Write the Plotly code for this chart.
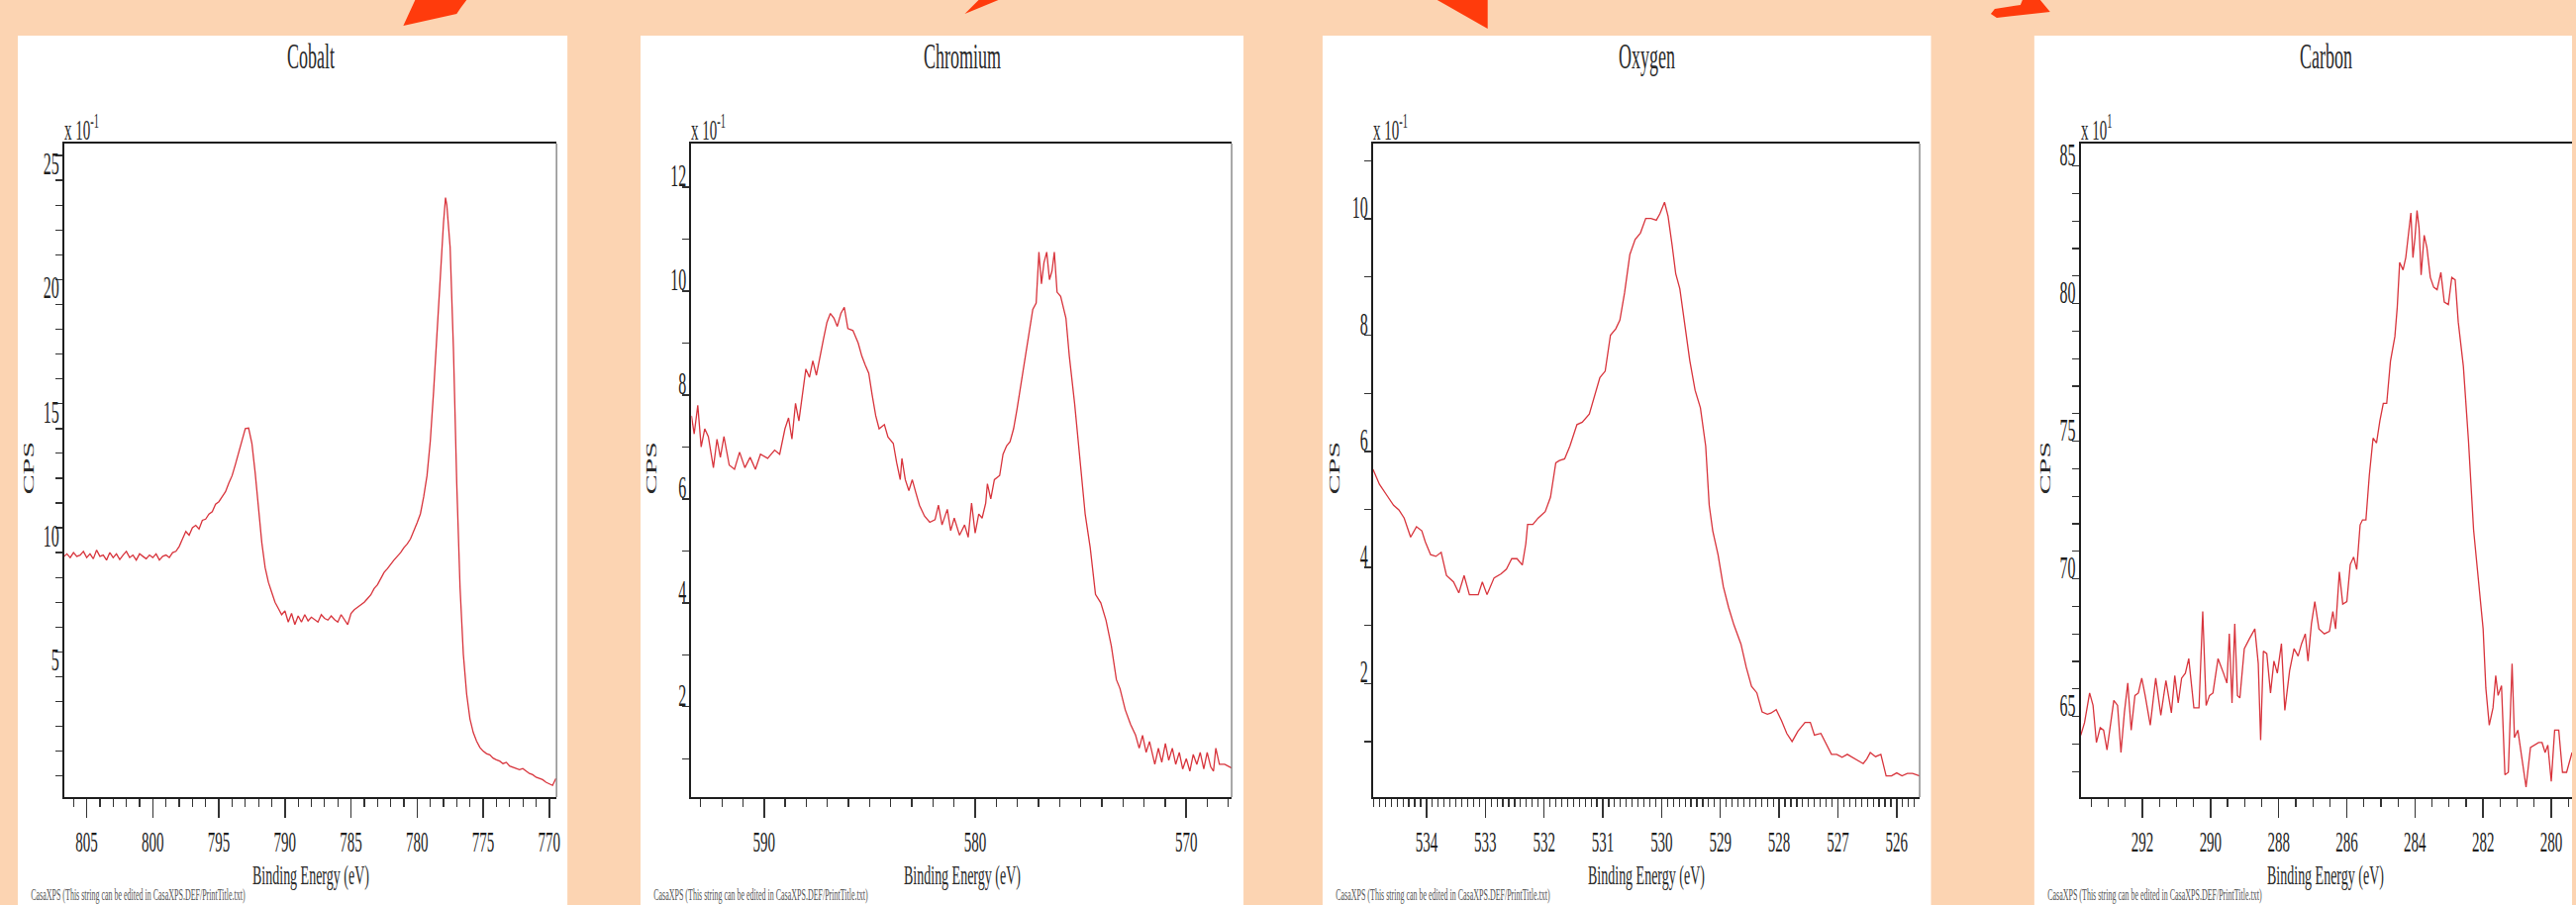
import plotly.graph_objects as go

# ---------------- data ----------------
panel_titles = ["Cobalt", "Chromium", "Oxygen", "Carbon"]
scale_labels = ["x 10<sup>-1</sup>", "x 10<sup>-1</sup>", "x 10<sup>-1</sup>", "x 10<sup>1</sup>"]
x_title = "Binding Energy (eV)"
y_title = "CPS"
footer = "CasaXPS (This string can be edited in CasaXPS.DEF/PrintTitle.txt)"

cobalt = [
    (806.7, 9.85), (806.5, 9.95), (806.25, 9.8), (806.0, 10.0), (805.75, 9.85), (805.5, 9.9),
    (805.25, 10.05), (805.0, 9.8), (804.75, 9.95), (804.5, 9.75), (804.25, 10.1), (804.0, 9.85),
    (803.75, 9.9), (803.5, 9.7), (803.25, 10.0), (803.0, 9.8), (802.75, 9.95), (802.5, 9.72),
    (802.25, 9.9), (802.0, 10.05), (801.75, 9.8), (801.5, 9.9), (801.25, 9.7), (801.0, 9.95),
    (800.75, 9.85), (800.5, 9.75), (800.25, 9.9), (800.0, 9.8), (799.75, 9.95), (799.5, 9.7),
    (799.25, 9.85), (799.0, 9.9), (798.75, 9.8), (798.5, 10.0), (798.25, 10.05), (798.0, 10.25),
    (797.75, 10.55), (797.5, 10.85), (797.25, 10.7), (797.0, 11.0), (796.75, 11.1), (796.5, 10.95),
    (796.25, 11.3), (796.0, 11.35), (795.75, 11.55), (795.5, 11.65), (795.25, 11.95), (795.0, 12.05),
    (794.75, 12.25), (794.5, 12.45), (794.25, 12.8), (794.0, 13.1), (793.75, 13.55), (793.5, 14.05),
    (793.25, 14.6), (793.0, 15.0), (792.75, 15.02), (792.5, 14.4), (792.25, 13.2), (792.0, 11.7),
    (791.75, 10.4), (791.5, 9.4), (791.25, 8.8), (791.0, 8.4), (790.75, 8.0), (790.5, 7.75),
    (790.25, 7.5), (790.0, 7.65), (789.75, 7.2), (789.5, 7.55), (789.25, 7.1), (789.0, 7.45),
    (788.75, 7.2), (788.5, 7.5), (788.25, 7.25), (788.0, 7.4), (787.75, 7.3), (787.5, 7.2),
    (787.25, 7.5), (787.0, 7.35), (786.75, 7.28), (786.5, 7.45), (786.25, 7.3), (786.0, 7.2),
    (785.75, 7.5), (785.5, 7.3), (785.25, 7.1), (785.0, 7.55), (784.75, 7.7), (784.5, 7.8),
    (784.25, 7.9), (784.0, 8.0), (783.75, 8.15), (783.5, 8.3), (783.25, 8.55), (783.0, 8.7),
    (782.75, 8.95), (782.5, 9.2), (782.25, 9.35), (782.0, 9.55), (781.75, 9.7), (781.5, 9.85),
    (781.25, 10.0), (781.0, 10.2), (780.75, 10.35), (780.5, 10.55), (780.25, 10.85), (780.0, 11.2),
    (779.75, 11.56), (779.5, 12.25), (779.25, 13.1), (779.0, 14.5), (778.75, 16.5), (778.5, 18.9),
    (778.25, 21.4), (778.0, 23.3), (777.85, 24.3), (777.75, 24.0), (777.5, 22.3), (777.25, 18.2),
    (777.0, 12.8), (776.75, 8.6), (776.5, 5.9), (776.25, 4.3), (776.0, 3.3), (775.75, 2.75),
    (775.5, 2.4), (775.25, 2.15), (775.0, 2.0), (774.75, 1.9), (774.5, 1.85), (774.25, 1.72),
    (774.0, 1.65), (773.75, 1.6), (773.5, 1.5), (773.25, 1.55), (773.0, 1.4), (772.75, 1.35),
    (772.5, 1.3), (772.25, 1.25), (772.0, 1.3), (771.75, 1.18), (771.5, 1.1), (771.25, 1.05),
    (771.0, 0.95), (770.75, 0.9), (770.5, 0.85), (770.25, 0.75), (770.0, 0.7), (769.75, 0.62),
    (769.5, 0.9),
]

chromium = [
    (593.44, 7.6), (593.31, 7.25), (593.14, 7.8), (592.98, 7.0), (592.81, 7.35), (592.64, 7.2),
    (592.40, 6.6), (592.23, 7.15), (592.07, 6.8), (591.90, 7.2), (591.65, 6.65), (591.40, 6.57),
    (591.16, 6.9), (590.91, 6.6), (590.66, 6.8), (590.41, 6.57), (590.17, 6.86), (589.83, 6.78),
    (589.50, 6.94), (589.26, 6.86), (589.01, 7.35), (588.84, 7.56), (588.68, 7.15), (588.51, 7.84),
    (588.35, 7.5), (588.18, 8.0), (588.02, 8.5), (587.85, 8.34), (587.69, 8.66), (587.52, 8.38),
    (587.36, 8.75), (587.19, 9.07), (587.02, 9.4), (586.86, 9.57), (586.69, 9.48), (586.53, 9.32),
    (586.36, 9.57), (586.20, 9.69), (586.03, 9.28), (585.79, 9.24), (585.54, 9.0), (585.37, 8.75),
    (585.21, 8.58), (585.04, 8.42), (584.88, 8.0), (584.71, 7.6), (584.55, 7.35), (584.30, 7.43),
    (584.13, 7.19), (583.88, 7.07), (583.72, 6.7), (583.55, 6.37), (583.47, 6.78), (583.31, 6.37),
    (583.14, 6.16), (582.98, 6.37), (582.81, 6.12), (582.64, 5.88), (582.40, 5.67), (582.15, 5.55),
    (581.90, 5.6), (581.74, 5.88), (581.57, 5.5), (581.32, 5.8), (581.16, 5.39), (580.99, 5.63),
    (580.74, 5.3), (580.50, 5.5), (580.33, 5.26), (580.17, 5.92), (580.00, 5.34), (579.83, 5.71),
    (579.67, 5.63), (579.50, 5.92), (579.42, 6.29), (579.26, 6.0), (579.09, 6.37), (578.84, 6.45),
    (578.68, 6.86), (578.51, 7.02), (578.35, 7.1), (578.18, 7.35), (578.02, 7.72), (577.77, 8.34),
    (577.52, 9.0), (577.27, 9.65), (577.11, 9.77), (576.98, 10.75), (576.86, 10.14), (576.74, 10.55),
    (576.61, 10.75), (576.48, 10.22), (576.36, 10.39), (576.25, 10.75), (576.12, 9.98), (575.95, 9.9),
    (575.70, 9.48), (575.54, 8.75), (575.29, 7.84), (575.04, 6.7), (574.79, 5.71), (574.55, 5.06),
    (574.30, 4.16), (574.05, 4.0), (573.80, 3.66), (573.55, 3.17), (573.31, 2.52), (573.14, 2.35),
    (572.89, 1.94), (572.64, 1.66), (572.40, 1.45), (572.23, 1.2), (572.07, 1.45), (571.90, 1.12),
    (571.74, 1.33), (571.49, 0.89), (571.32, 1.2), (571.16, 0.93), (570.99, 1.29), (570.83, 0.97),
    (570.66, 1.2), (570.50, 0.89), (570.33, 1.12), (570.17, 0.8), (570.00, 1.0), (569.83, 0.76),
    (569.67, 1.08), (569.50, 0.89), (569.34, 1.12), (569.17, 0.8), (569.01, 1.12), (568.84, 0.84),
    (568.71, 0.76), (568.60, 1.2), (568.43, 0.89), (568.18, 0.89), (567.85, 0.82),
]

oxygen = [
    (534.91, 5.69), (534.80, 5.43), (534.68, 5.25), (534.56, 5.07), (534.47, 4.99), (534.38, 4.85),
    (534.27, 4.52), (534.17, 4.70), (534.08, 4.63), (534.02, 4.44), (533.93, 4.22), (533.84, 4.19),
    (533.75, 4.26), (533.66, 3.86), (533.54, 3.75), (533.45, 3.56), (533.36, 3.86), (533.27, 3.53),
    (533.18, 3.53), (533.12, 3.53), (533.05, 3.75), (532.97, 3.53), (532.85, 3.82), (532.73, 3.89),
    (532.64, 3.97), (532.55, 4.15), (532.46, 4.15), (532.37, 4.04), (532.31, 4.41), (532.28, 4.74),
    (532.19, 4.74), (532.10, 4.85), (531.98, 4.96), (531.89, 5.21), (531.80, 5.80), (531.74, 5.84),
    (531.65, 5.87), (531.56, 6.09), (531.44, 6.46), (531.35, 6.50), (531.23, 6.64), (531.14, 6.94),
    (531.05, 7.27), (530.96, 7.38), (530.87, 8.00), (530.78, 8.11), (530.71, 8.26), (530.63, 8.73),
    (530.54, 9.39), (530.45, 9.65), (530.36, 9.76), (530.27, 10.01), (530.18, 10.01), (530.09, 9.98),
    (530.03, 10.09), (529.95, 10.29), (529.89, 10.05), (529.82, 9.54), (529.76, 9.06), (529.69, 8.80),
    (529.61, 8.22), (529.52, 7.56), (529.43, 7.05), (529.34, 6.75), (529.25, 6.09), (529.19, 5.07),
    (529.13, 4.63), (529.04, 4.22), (528.95, 3.67), (528.86, 3.31), (528.77, 3.01), (528.65, 2.68),
    (528.56, 2.28), (528.47, 1.95), (528.38, 1.84), (528.29, 1.51), (528.20, 1.47), (528.14, 1.49),
    (528.05, 1.55), (527.96, 1.36), (527.87, 1.14), (527.78, 1.00), (527.68, 1.18), (527.56, 1.33),
    (527.47, 1.33), (527.40, 1.11), (527.29, 1.14), (527.20, 0.96), (527.11, 0.78), (527.02, 0.78),
    (526.93, 0.73), (526.84, 0.78), (526.75, 0.73), (526.66, 0.67), (526.57, 0.62), (526.51, 0.70),
    (526.45, 0.81), (526.36, 0.74), (526.27, 0.78), (526.18, 0.41), (526.09, 0.41), (526.00, 0.46),
    (525.91, 0.41), (525.82, 0.45), (525.73, 0.45), (525.61, 0.41),
]

carbon = [
    (293.81, 64.32), (293.70, 64.77), (293.55, 65.85), (293.45, 65.4), (293.35, 64.05), (293.24, 64.59),
    (293.14, 64.5), (293.04, 63.78), (292.94, 64.68), (292.84, 65.58), (292.73, 65.4), (292.63, 63.69),
    (292.53, 65.13), (292.43, 66.21), (292.33, 64.5), (292.22, 65.76), (292.12, 65.85), (292.02, 66.39),
    (291.92, 65.76), (291.77, 64.68), (291.61, 66.39), (291.46, 65.04), (291.31, 66.3), (291.15, 65.13),
    (291.05, 66.48), (290.95, 65.49), (290.85, 66.39), (290.74, 66.57), (290.64, 67.1), (290.49, 65.31),
    (290.34, 65.31), (290.23, 68.81), (290.13, 65.4), (290.03, 65.76), (289.93, 65.85), (289.78, 67.1),
    (289.62, 66.57), (289.52, 66.21), (289.45, 68.0), (289.37, 65.49), (289.29, 68.36), (289.21, 65.76),
    (289.14, 65.67), (289.01, 67.46), (288.86, 67.82), (288.70, 68.18), (288.60, 66.92), (288.53, 64.14),
    (288.45, 67.37), (288.35, 67.28), (288.24, 65.85), (288.14, 67.01), (288.04, 66.57), (287.92, 67.64),
    (287.82, 65.22), (287.68, 66.66), (287.55, 67.46), (287.43, 67.19), (287.33, 67.64), (287.22, 68.0),
    (287.14, 67.01), (287.04, 68.36), (286.94, 69.17), (286.82, 68.18), (286.66, 68.0), (286.51, 68.09),
    (286.41, 68.81), (286.33, 68.18), (286.22, 70.25), (286.12, 69.08), (286.00, 69.17), (285.90, 70.52),
    (285.80, 70.79), (285.71, 70.34), (285.61, 71.96), (285.54, 72.14), (285.44, 72.14), (285.34, 73.76),
    (285.23, 75.11), (285.13, 74.93), (285.03, 75.74), (284.93, 76.37), (284.83, 76.37), (284.72, 77.9),
    (284.59, 78.8), (284.52, 79.87), (284.45, 81.49), (284.35, 81.22), (284.27, 81.67), (284.18, 82.57),
    (284.12, 83.29), (284.06, 81.67), (284.00, 82.39), (283.94, 83.38), (283.88, 82.75), (283.82, 81.04),
    (283.73, 82.48), (283.65, 82.03), (283.55, 80.95), (283.45, 80.59), (283.35, 80.5), (283.24, 81.13),
    (283.14, 80.05), (283.02, 79.96), (282.92, 80.95), (282.82, 80.86), (282.73, 79.33), (282.58, 77.72),
    (282.43, 75.02), (282.28, 71.78), (282.12, 69.62), (282.00, 68.18), (281.92, 66.03), (281.82, 64.68),
    (281.71, 65.31), (281.63, 66.48), (281.56, 65.76), (281.46, 66.12), (281.36, 62.88), (281.26, 62.97),
    (281.15, 66.92), (281.08, 64.23), (280.98, 64.5), (280.88, 63.69), (280.74, 62.43), (280.61, 63.87),
    (280.49, 63.96), (280.37, 64.05), (280.27, 64.05), (280.18, 63.69), (280.10, 63.96), (280.00, 62.64),
    (279.90, 64.5), (279.78, 64.5), (279.67, 62.97), (279.55, 62.97), (279.39, 63.69),
]

spectra = [cobalt, chromium, oxygen, carbon]
x_ranges = [(806.7, 769.45), (593.44, 567.85), (534.91, 525.61), (293.81, 279.39)]
y_ranges = [(0.15, 26.48), (0.26, 12.84), (0.044, 11.30), (62.07, 85.81)]
x_major = [5, 10, 1, 2]
x_minor = [1, 1, 0.1, 0.5]
y_major = [5, 2, 2, 5]
y_minor = [1, 1, 1, 1]

# ---------------- layout geometry (pixels) ----------------
W, H = 2602, 914
plot_x = [(65, 563), (699.5, 1246), (1389, 1942), (2105, 2602)]
plot_top, plot_bot = 145, 805
cards = [(18, 574), (648, 1258), (1338, 1953.5), (2058, 2602)]
card_top = 36
cps_x = [29, 659, 1350, 2069]
title_x = [314, 973, 1666, 2353]


def px(x):
    return x / W


def py(y):
    return 1 - y / H


FONT = "Liberation Serif"
LINE_RED = "#D8343C"
INK = "#1e1e1e"
TXT = "#2a2a2a"

fig = go.Figure()
shapes = []
annotations = []

for (c0, c1) in cards:
    shapes.append(dict(type="rect", xref="paper", yref="paper", x0=px(c0), x1=px(c1),
                       y0=py(H), y1=py(card_top), fillcolor="white", line=dict(width=0),
                       layer="below"))

for i in range(4):
    sfx = "" if i == 0 else str(i + 1)
    be = [p[0] for p in spectra[i]]
    cps = [p[1] for p in spectra[i]]
    fig.add_trace(go.Scatter(x=be, y=cps, mode="lines", xaxis="x" + sfx, yaxis="y" + sfx,
                             line=dict(color=LINE_RED, width=1.3), showlegend=False,
                             hoverinfo="skip"))
    x0, x1 = plot_x[i]
    fig.layout["xaxis" + sfx] = dict(
        domain=[px(x0), px(x1)], range=list(x_ranges[i]), autorange=False,
        anchor="y" + sfx, showline=True, linecolor=INK, linewidth=2, mirror=True,
        ticks="outside", ticklen=19, tickwidth=1.5, tickcolor="#333",
        tick0=0, dtick=x_major[i],
        minor=dict(ticks="outside", dtick=x_minor[i], ticklen=8, tickwidth=1.2, tickcolor="#333"),
        tickfont=dict(family=FONT, size=15, color=INK), ticklabelstandoff=11,
        showgrid=False, zeroline=False, fixedrange=True,
    )
    fig.layout["yaxis" + sfx] = dict(
        domain=[py(plot_bot), py(plot_top)], range=list(y_ranges[i]), autorange=False,
        anchor="x" + sfx, showline=True, linecolor=INK, linewidth=2, mirror=False,
        ticks="outside", ticklen=7, tickwidth=1.5, tickcolor="#333",
        tick0=0, dtick=y_major[i], ticklabelposition="outside top",
        minor=dict(ticks="outside", dtick=y_minor[i], ticklen=7, tickwidth=1.2, tickcolor="#333"),
        tickfont=dict(family=FONT, size=16, color=INK),
        showgrid=False, zeroline=False, fixedrange=True,
    )
    if i < 3:
        shapes.append(dict(type="line", xref="paper", yref="paper", x0=px(x1), x1=px(x1),
                           y0=py(plot_bot), y1=py(plot_top), line=dict(color="#8c8c8c", width=1.5)))
    annotations.append(dict(text=panel_titles[i], x=px(title_x[i]), y=py(57), xref="paper",
                            yref="paper", showarrow=False, xanchor="center", yanchor="middle",
                            font=dict(family=FONT, size=18, color=TXT)))
    annotations.append(dict(text=scale_labels[i], x=px(x0 - 2), y=py(129), xref="paper",
                            yref="paper", showarrow=False, xanchor="left", yanchor="middle",
                            font=dict(family=FONT, size=15, color=TXT)))
    annotations.append(dict(text=x_title, x=px(title_x[i]), y=py(885), xref="paper", yref="paper",
                            showarrow=False, xanchor="center", yanchor="middle",
                            font=dict(family=FONT, size=14, color=TXT)))
    annotations.append(dict(text=y_title, x=px(cps_x[i]), y=py(472), xref="paper", yref="paper",
                            showarrow=False, textangle=-90, xanchor="center", yanchor="middle",
                            font=dict(family=FONT, size=15, color=TXT)))
    annotations.append(dict(text=footer, x=px(cards[i][0] + 11), y=py(904), xref="paper",
                            yref="paper", showarrow=False, xanchor="left", yanchor="middle",
                            font=dict(family=FONT, size=8, color="#555")))

# red arrow fragments at the top edge (decoration)
arrow_polys = [
    [(408, 26), (420, 0), (472, 0), (466, 8), (462, 14)],
    [(976, 14), (990, 0), (1010, 0)],
    [(1454, 0), (1505, 0), (1505, 29)],
    [(2014, 14), (2020, 18), (2074, 12), (2064, 0), (2046, 0), (2044, 5), (2018, 9)],
]
for poly in arrow_polys:
    path = "M " + " L ".join(f"{px(a):.5f},{py(b):.5f}" for a, b in poly) + " Z"
    shapes.append(dict(type="path", xref="paper", yref="paper", path=path,
                       fillcolor="#FF3B0C", line=dict(width=0)))

fig.update_layout(
    width=W, height=H, margin=dict(l=0, r=0, t=0, b=0),
    paper_bgcolor="#FCD4B2", plot_bgcolor="white", showlegend=False,
    shapes=shapes, annotations=annotations,
)

# The reference image is stretched vertically (text looks tall and narrow):
# after drawing, stretch every text element 2x vertically about its own centre.
post_js = """
document.body.style.margin = '0';
document.body.style.overflow = 'hidden';
var gd = document.getElementById('{plot_id}');
var SY = 2.0;
var texts = Array.prototype.slice.call(gd.querySelectorAll('text'));
texts.forEach(function(el){
  if (!el.textContent || !el.textContent.trim()) return;
  var r = el.getBoundingClientRect();
  if (r.width === 0 || r.height === 0) return;
  var parent = el.parentNode;
  var M = parent.getScreenCTM();
  if (!M) return;
  var cx = r.left + r.width / 2;
  var cy = r.top + r.height / 2;
  var pcls = parent.getAttribute('class') || '';
  if (pcls.indexOf('ytick') >= 0) { cy = r.bottom - 0.19 * r.height; }
  var Md = new DOMMatrix([M.a, M.b, M.c, M.d, M.e, M.f]);
  var S = new DOMMatrix().translate(cx, cy).scale(1, SY).translate(-cx, -cy);
  var L = Md.inverse().multiply(S).multiply(Md);
  var g = document.createElementNS('http://www.w3.org/2000/svg', 'g');
  g.setAttribute('transform', 'matrix(' + [L.a, L.b, L.c, L.d, L.e, L.f].join(',') + ')');
  parent.insertBefore(g, el);
  g.appendChild(el);
});
"""

fig.write_html("out.html", config={"staticPlot": True}, post_script=post_js)
